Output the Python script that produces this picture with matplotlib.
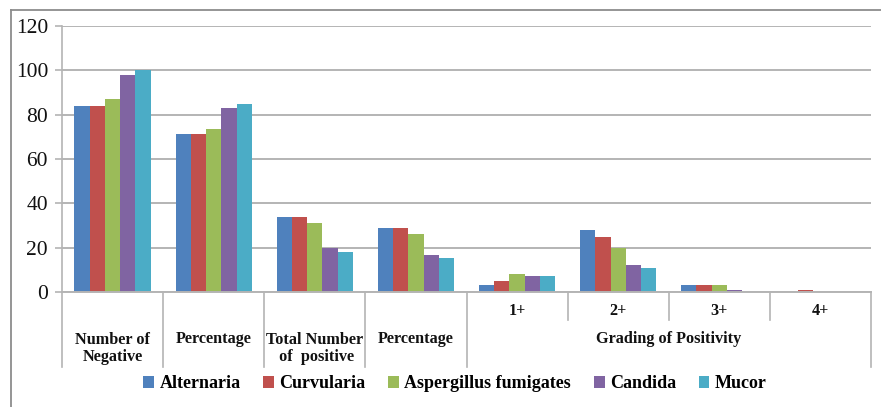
import matplotlib
matplotlib.use('Agg')
import matplotlib.pyplot as plt
from matplotlib.lines import Line2D
from matplotlib.patches import Patch
import numpy as np

# --- Data ---
species = ['Alternaria', 'Curvularia', 'Aspergillus fumigates', 'Candida', 'Mucor']
colors = ['#4F81BD', '#C0504D', '#9BBB59', '#8064A2', '#4BACC6']

# one row per category on the x axis, one column per species
negative_count = [84, 84, 87, 98, 100]
negative_pct = [71.2, 71.2, 73.7, 83.1, 84.7]
positive_count = [34, 34, 31, 20, 18]
positive_pct = [28.8, 28.8, 26.3, 16.9, 15.3]
grade_1 = [3, 5, 8, 7, 7]
grade_2 = [28, 25, 20, 12, 11]
grade_3 = [3, 3, 3, 1, 0]
grade_4 = [0, 1, 0, 0, 0]

groups = [negative_count, negative_pct, positive_count, positive_pct,
          grade_1, grade_2, grade_3, grade_4]
single_labels = ['Number of\nNegative', 'Percentage', 'Total Number\n of  positive', 'Percentage']
grade_labels = ['1+', '2+', '3+', '4+']
grade_title = 'Grading of Positivity'

FONT = 'Liberation Serif'
GRID = '#b4b4b4'

W, H = 881, 407
fig = plt.figure(figsize=(W / 100, H / 100), dpi=100)

# plot area in pixels
left, right, top, bottom = 62, 871, 26, 292
ax = fig.add_axes([left / W, 1 - bottom / H, (right - left) / W, (bottom - top) / H])

def frac(ypx):
    # pixel row -> axes fraction
    return (bottom - ypx) / (bottom - top)

data = np.array(groups)
x = np.arange(len(groups))
bw = 0.151
for i, name in enumerate(species):
    ax.bar(x + (i - 2) * bw, data[:, i], width=bw, color=colors[i],
           edgecolor='none', zorder=3, label=name)

ax.set_xlim(-0.5, len(groups) - 0.5)
ax.set_ylim(0, 120)
ax.set_yticks(range(0, 121, 20))
ax.yaxis.grid(True, color=GRID, linewidth=1.4, zorder=0)
for s in ['top', 'right', 'bottom']:
    ax.spines[s].set_visible(False)
ax.spines['left'].set_color(GRID)
ax.spines['left'].set_linewidth(1.2)
ax.tick_params(axis='y', length=5, color=GRID, width=1.2, pad=5,
               labelsize=15.5, labelcolor='#111111')
for lbl in ax.get_yticklabels():
    lbl.set_fontfamily(FONT)
ax.set_xticks([])

# multi-level category axis drawn by hand
tr = ax.get_xaxis_transform()
ax.plot([-0.5, len(groups) - 0.5], [0, 0], color=GRID, lw=1.4,
        transform=tr, clip_on=False, zorder=4)
long_sep = [-0.5, 0.5, 1.5, 2.5, 3.5, 7.5]
short_sep = [4.5, 5.5, 6.5]
for xs in long_sep:
    ax.plot([xs, xs], [0, frac(367)], color=GRID, lw=1.2, transform=tr, clip_on=False)
for xs in short_sep:
    ax.plot([xs, xs], [0, frac(320)], color=GRID, lw=1.2, transform=tr, clip_on=False)

txt = dict(transform=tr, ha='center', va='center', fontfamily=FONT,
           fontweight='bold', fontsize=11.7, color='#111111')
for i, lab in enumerate(single_labels):
    y = frac(348.5) if '\n' in lab else frac(339)
    ax.text(i, y, lab, linespacing=1.1, **txt)
for i, lab in enumerate(grade_labels):
    ax.text(4 + i, frac(311), lab, **txt)
ax.text(5.5, frac(339), grade_title, **txt)

# legend
handles = [Patch(facecolor=c, edgecolor='none') for c in colors]
fig.legend(handles, species, loc='center', bbox_to_anchor=(455 / W, 1 - 384 / H),
           ncol=5, frameon=False, handlelength=0.6, handleheight=0.6,
           handletextpad=0.3, columnspacing=1.25,
           prop={'family': FONT, 'weight': 'bold', 'size': 13})

# outer chart frame (top and left edges)
fig.add_artist(Line2D([11 / W, 1], [1 - 10 / H, 1 - 10 / H], color='#8c8c8c', lw=1.3))
fig.add_artist(Line2D([11 / W, 11 / W], [0, 1 - 10 / H], color='#8c8c8c', lw=1.3))

fig.savefig('out.png', dpi=100)
